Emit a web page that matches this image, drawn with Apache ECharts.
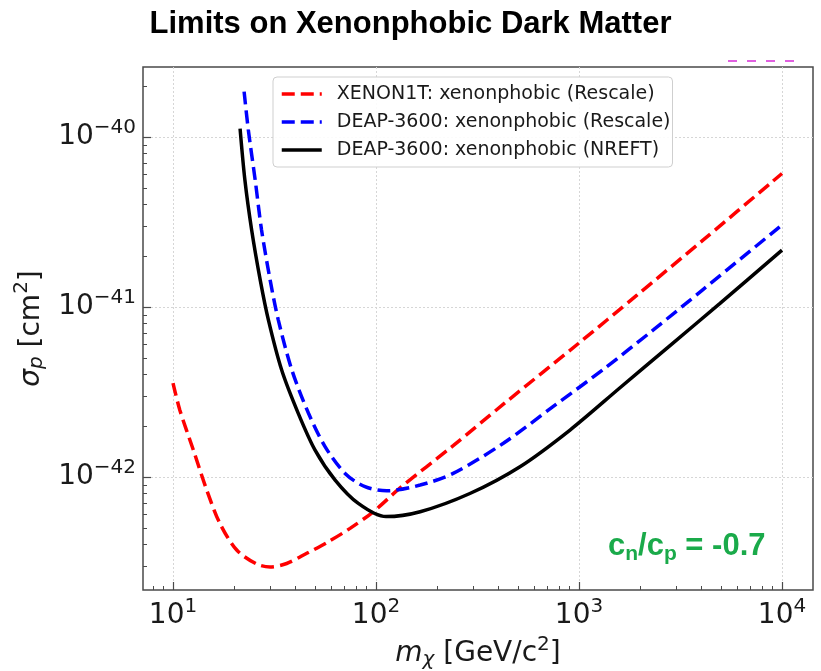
<!DOCTYPE html>
<html>
<head>
<meta charset="utf-8">
<script src="https://cdn.jsdelivr.net/npm/echarts@6/dist/echarts.min.js"></script>
<style>
  html, body { margin: 0; padding: 0; background: #ffffff; }
  #chart { width: 821px; height: 671px; }
</style>
</head>
<body>
<div id="chart"></div>
<script>
// Dark-matter mass (GeV/c^2) and spin-independent proton cross-section limits (cm^2)
const xenonMass  = [10, 10.8, 12.6, 14.65, 17.0, 20.6, 25.8, 30.1, 36.3, 45.6, 57.2, 74.5, 97, 131, 240, 424, 993, 1923, 4094, 10000];
const xenonSigma = [3.57e-42, 2.48e-42, 1.44e-42, 8.4e-43, 5.35e-43, 3.72e-43, 3.08e-43, 2.96e-43, 3.1e-43, 3.56e-43, 4.11e-43, 4.99e-43, 6.25e-43, 8.6e-43, 1.53e-42, 2.68e-42, 6.1e-42, 1.17e-41, 2.48e-41, 6.1e-41];

const deapRescaleMass  = [22.4, 23.5, 25.4, 27.3, 30.1, 33.0, 38.5, 46.5, 56.1, 70.4, 88.3, 113, 165, 240, 424, 747, 1318, 2323, 4094, 10000];
const deapRescaleSigma = [1.85e-40, 1.1e-40, 5.58e-41, 2.84e-41, 1.44e-41, 8.4e-42, 4.26e-42, 2.37e-42, 1.51e-42, 1.05e-42, 8.77e-43, 8.3e-43, 8.97e-43, 1.05e-42, 1.58e-42, 2.6e-42, 4.3e-42, 7.33e-42, 1.27e-41, 3.04e-41];

const deapNreftMass  = [21.4, 22.6, 24.4, 26.9, 29.5, 34.3, 41.4, 50.1, 62.9, 81.8, 112, 165, 290, 512, 903, 1592, 2807, 4950, 10000];
const deapNreftSigma = [1.12e-40, 5.58e-41, 2.84e-41, 1.44e-41, 8.4e-42, 4.26e-42, 2.37e-42, 1.44e-42, 9.6e-43, 7.0e-43, 5.85e-43, 6.25e-43, 8.0e-43, 1.15e-42, 1.89e-42, 3.35e-42, 5.93e-42, 1.05e-41, 2.16e-41];

const seriesNames = [
  'XENON1T: xenonphobic (Rescale)',
  'DEAP-3600: xenonphobic (Rescale)',
  'DEAP-3600: xenonphobic (NREFT)'
];

// Axis ranges and tick positions (cross-sections in cm^2)
const xRange = [7.115, 14213];
const yRange = [2.165e-43, 2.58e-40];
const xMajorTicks = [10, 100, 1000, 10000];
const xMinorTicks = [8, 9, 20, 30, 40, 50, 60, 70, 80, 90, 200, 300, 400, 500, 600, 700, 800, 900, 2000, 3000, 4000, 5000, 6000, 7000, 8000, 9000];
const yMajorTicks = [1e-42, 1e-41, 1e-40];
const yMinorTicks = [3e-43, 4e-43, 5e-43, 6e-43, 7e-43, 8e-43, 9e-43, 2e-42, 3e-42, 4e-42, 5e-42, 6e-42, 7e-42, 8e-42, 9e-42, 2e-41, 3e-41, 4e-41, 5e-41, 6e-41, 7e-41, 8e-41, 9e-41, 2e-40];

const ratioLabel = { a: 'c', sa: 'n', b: 'c', sb: 'p', rest: ' = -0.7' };

// The y axis works in units of 1e-40 cm^2 so the log scale keeps enough precision
const Y_UNIT_EXP = -40;
const Y_UNIT = Math.pow(10, Y_UNIT_EXP);
const toUnit = v => v / Y_UNIT;

const FONT = 'DejaVu Sans';
const INK = '#1a1a1a';
const FRAME = '#4a4a4a';

function zip(xs, ys) { return xs.map((x, i) => [x, toUnit(ys[i])]); }

function expText(e) { return e < 0 ? '\u2212' + (-e) : String(e); }
function xLabel(v) { return '{b|10}{e|' + expText(Math.round(Math.log10(v))) + '}'; }
function yLabel(v) { return '{b|10}{e|' + expText(Math.round(Math.log10(v)) + Y_UNIT_EXP) + '}'; }

const tickRich = {
  b: { fontFamily: FONT, fontSize: 28, color: INK },
  e: { fontFamily: FONT, fontSize: 20, color: INK, padding: [0, 0, 18, 0] }
};

const nameRich = {
  n:   { fontFamily: FONT, fontSize: 28, color: INK },
  i:   { fontFamily: FONT, fontSize: 28, color: INK, fontStyle: 'italic' },
  sub: { fontFamily: FONT, fontSize: 20, color: INK, fontStyle: 'italic', padding: [12, 0, 0, 0] },
  sup: { fontFamily: FONT, fontSize: 20, color: INK, padding: [0, 0, 18, 0] }
};

function majorAxis(range, ticks, formatter, extra) {
  return Object.assign({
    type: 'log', logBase: 10, min: range[0], max: range[1],
    axisLine: { show: false },
    axisTick: { show: true, inside: true, length: 8, customValues: ticks, lineStyle: { color: FRAME, width: 1.2 } },
    axisLabel: { show: true, customValues: ticks, formatter: formatter, rich: tickRich, margin: 7 },
    splitLine: { show: true, lineStyle: { color: '#d6d6d6', type: [2, 2], width: 1 } },
    minorTick: { show: false }, minorSplitLine: { show: false }
  }, extra);
}

function minorAxis(range, ticks, extra) {
  return Object.assign({
    type: 'log', logBase: 10, min: range[0], max: range[1],
    axisLine: { show: false },
    axisTick: { show: true, inside: true, length: 4, customValues: ticks, lineStyle: { color: FRAME, width: 1 } },
    axisLabel: { show: false },
    splitLine: { show: false }
  }, extra);
}

const chart = echarts.init(document.getElementById('chart'), null, { renderer: 'canvas' });

chart.setOption({
  backgroundColor: '#ffffff',
  animation: false,
  title: {
    text: 'Limits on Xenonphobic Dark Matter',
    left: 'center', top: 4,
    textStyle: { fontFamily: 'Liberation Sans', fontWeight: 'bold', fontSize: 31, color: '#000' }
  },
  grid: {
    left: 143, top: 67, right: 8, bottom: 81,
    show: true, borderColor: FRAME, borderWidth: 1.5, backgroundColor: 'transparent',
    containLabel: false, outerBoundsMode: 'none'
  },
  legend: {
    orient: 'vertical', left: 273, top: 77,
    itemWidth: 40, itemHeight: 14, itemGap: 8,
    padding: [7, 2, 7, 7],
    backgroundColor: 'rgba(255,255,255,0.9)', borderColor: '#cfcfcf', borderWidth: 1, borderRadius: 4,
    itemStyle: { opacity: 0 },
    lineStyle: { width: 3.5 },
    textStyle: { fontFamily: FONT, fontSize: 19, color: INK, padding: [0, 0, 0, 10], lineHeight: 20 },
    data: seriesNames
  },
  xAxis: [
    majorAxis(xRange, xMajorTicks, xLabel, {
      position: 'bottom',
      name: '{i|m}{sub|\u03c7} [GeV/c{sup|2}]',
      nameLocation: 'middle', nameGap: 45,
      nameTextStyle: { fontFamily: FONT, fontSize: 28, color: INK, rich: nameRich }
    }),
    minorAxis(xRange, xMinorTicks, { position: 'bottom' })
  ],
  yAxis: [
    majorAxis(yRange.map(toUnit), yMajorTicks.map(toUnit), yLabel, {
      position: 'left',
      name: '{i|\u03c3}{sub|p} [cm{sup|2}]',
      nameLocation: 'middle', nameGap: 82, nameRotate: 90,
      nameTextStyle: { fontFamily: FONT, fontSize: 28, color: INK, rich: nameRich }
    }),
    minorAxis(yRange.map(toUnit), yMinorTicks.map(toUnit), { position: 'left' })
  ],
  series: [
    {
      name: seriesNames[0], type: 'line', xAxisIndex: 0, yAxisIndex: 0,
      data: zip(xenonMass, xenonSigma), symbol: 'none', smooth: 0.3,
      lineStyle: { color: '#ff0000', width: 3.5, type: [13, 6], cap: 'butt' },
      itemStyle: { color: '#ff0000' }, z: 3
    },
    {
      name: seriesNames[1], type: 'line', xAxisIndex: 0, yAxisIndex: 0,
      data: zip(deapRescaleMass, deapRescaleSigma), symbol: 'none', smooth: 0.3,
      lineStyle: { color: '#0000ff', width: 3.5, type: [13, 6], cap: 'butt' },
      itemStyle: { color: '#0000ff' }, z: 4
    },
    {
      name: seriesNames[2], type: 'line', xAxisIndex: 0, yAxisIndex: 0,
      data: zip(deapNreftMass, deapNreftSigma), symbol: 'none', smooth: 0.3,
      lineStyle: { color: '#000000', width: 3.5 },
      itemStyle: { color: '#000000' }, z: 5
    }
  ],
  graphic: [
    {
      type: 'text', left: 608, top: 531, z: 10,
      style: {
        text: ratioLabel.a + '{s|' + ratioLabel.sa + '}/' + ratioLabel.b + '{s|' + ratioLabel.sb + '}' + ratioLabel.rest,
        fontFamily: 'Liberation Sans', fontWeight: 'bold', fontSize: 31, fill: '#1aaa4a',
        rich: {
          s: { fontFamily: 'Liberation Sans', fontWeight: 'bold', fontSize: 21, fill: '#1aaa4a', color: '#1aaa4a', padding: [15, 0, 0, 0] }
        }
      }
    },
    {
      // clipped dashed key peeking above the frame
      type: 'line', z: 10,
      shape: { x1: 728, y1: 61, x2: 796, y2: 61 },
      style: { stroke: '#e060e0', lineWidth: 2, lineDash: [9, 10] }
    }
  ]
});
</script>
</body>
</html>
